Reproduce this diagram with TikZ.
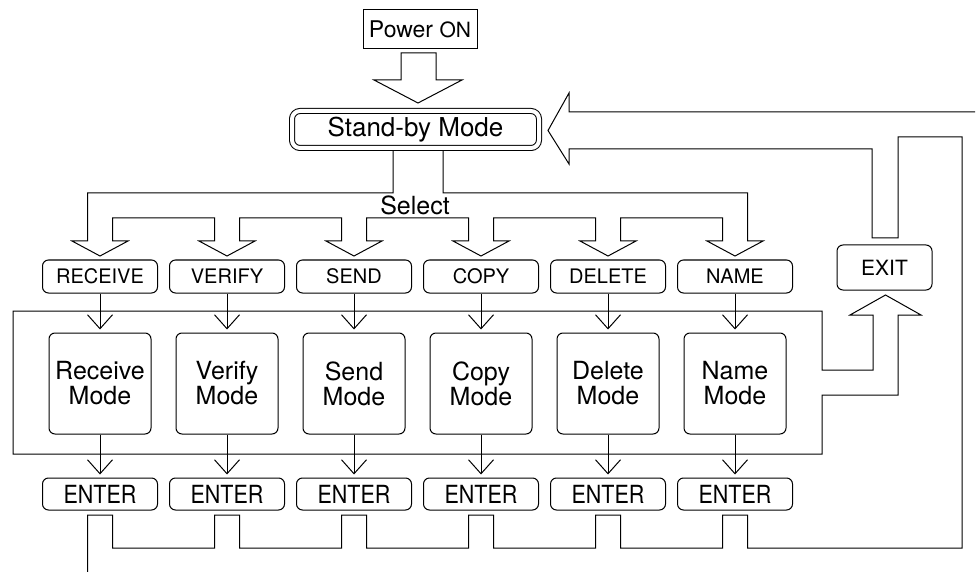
\documentclass[tikz,border=0pt]{standalone}
\usepackage{fontspec}
\setmainfont{TeX Gyre Heros}
\usetikzlibrary{arrows.meta}

\begin{document}
\begin{tikzpicture}[x=0.5pt,y=-0.5pt,line width=0.5pt,
        every node/.style={inner sep=0pt},
        keybox/.style={
          draw,rounded corners=3pt,minimum width=57.5pt,minimum height=16.5pt,
          font=\fontsize{10}{12}\selectfont
        },
        modebox/.style={
          draw,rounded corners=3pt,minimum width=51pt,minimum height=50.5pt,
          align=center,font=\fontsize{12.5}{12.5}\selectfont
        },
        enterbox/.style={
          keybox,minimum height=16pt,font=\fontsize{12.5}{14}\selectfont
        },
        pipe/.style={line join=miter},
        flow/.style={-{Straight Barb[length=7pt,width=12.5pt]},shorten >=1.5pt}
      ]
      \useasboundingbox (0,0) rectangle (979,572);
      % top: power on and stand-by
      \node [draw,minimum width=57pt,minimum height=19.5pt,font=\fontsize{11.5}{13}\selectfont]
        (power) at (420,29.5) {Power {\fontsize{10.5}{13}\selectfont ON}};
      \node [draw,double,double distance=2pt,rounded corners=4pt,minimum width=123.5pt,
        minimum height=18.5pt,font=\fontsize{13}{15}\selectfont] (standby) at (415.5,129.5) {Stand-by Mode};
      \draw [pipe] (401,53) -- (401,80) -- (374,80) -- (418,103) -- (462,80) -- (436,80) -- (436,53) -- cycle;
      % the six keys and their modes
      \foreach \i/\key/\mode in {1/RECEIVE/Receive,2/VERIFY/Verify,3/SEND/Send,
                                 4/COPY/Copy,5/DELETE/Delete,6/NAME/Name} {
        \node [keybox] (cmd\i) at ({100+127*(\i-1)},276.5) {\key};
        \node [modebox] (mode\i) at ({100+127*(\i-1)},383.5) {\mode\\Mode};
        \node [enterbox] (enter\i) at ({100+127*(\i-1)},494) {\scalebox{0.86}[1]{ENTER}};
        \draw [flow] (cmd\i) -- (mode\i);
        \draw [flow] (mode\i) -- (enter\i);
      }
      \node [keybox,minimum width=47.5pt,minimum height=22.5pt,font=\fontsize{10.5}{12}\selectfont]
        (exit) at (884.5,267.5) {EXIT};
      % select pipe
      \draw [pipe] (443,151) -- (443,193) -- (747.5,193)
        foreach \i in {5,...,1} { -- ({100+127*\i+12.5},241) -- ++(15.5,0) -- ++(-28,15) -- ++(-28,-15)
          -- ++(15.5,0) -- ++(0,-23) -- ++(-102,0) }
        -- (112.5,241) -- ++(15.5,0) -- ++(-28,15) -- ++(-28,-15) -- ++(15.5,0)
        -- (87.5,193) -- (393,193) -- (393,151);
      \node [anchor=base,font=\fontsize{12.5}{14}\selectfont] (select) at (415,215) {Select};
      % mode frame and exit arrow
      \draw [pipe] (822,395) -- (822,454) -- (13,454) -- (13,311) -- (822,311) -- (822,370)
        -- (873,370) -- (873,315) -- (850,315) -- (885.5,295) -- (921,315) -- (898,315) -- (898,395) -- cycle;
      % return to stand-by
      \draw [pipe] (975,112) -- (569,112) -- (569,93) -- (548,130.5) -- (569,164) -- (569,149)
        -- (872,149) -- (872,238) -- (898,238) -- (898,137) -- (962,137) -- (962,548)
        foreach \i in {5,...,0} { -- ({100+127*\i+12.5},548) -- ++(0,-33) -- ++(-25,0) -- ++(0,33) }
        -- (87.5,572);
    \end{tikzpicture}
\end{document}
